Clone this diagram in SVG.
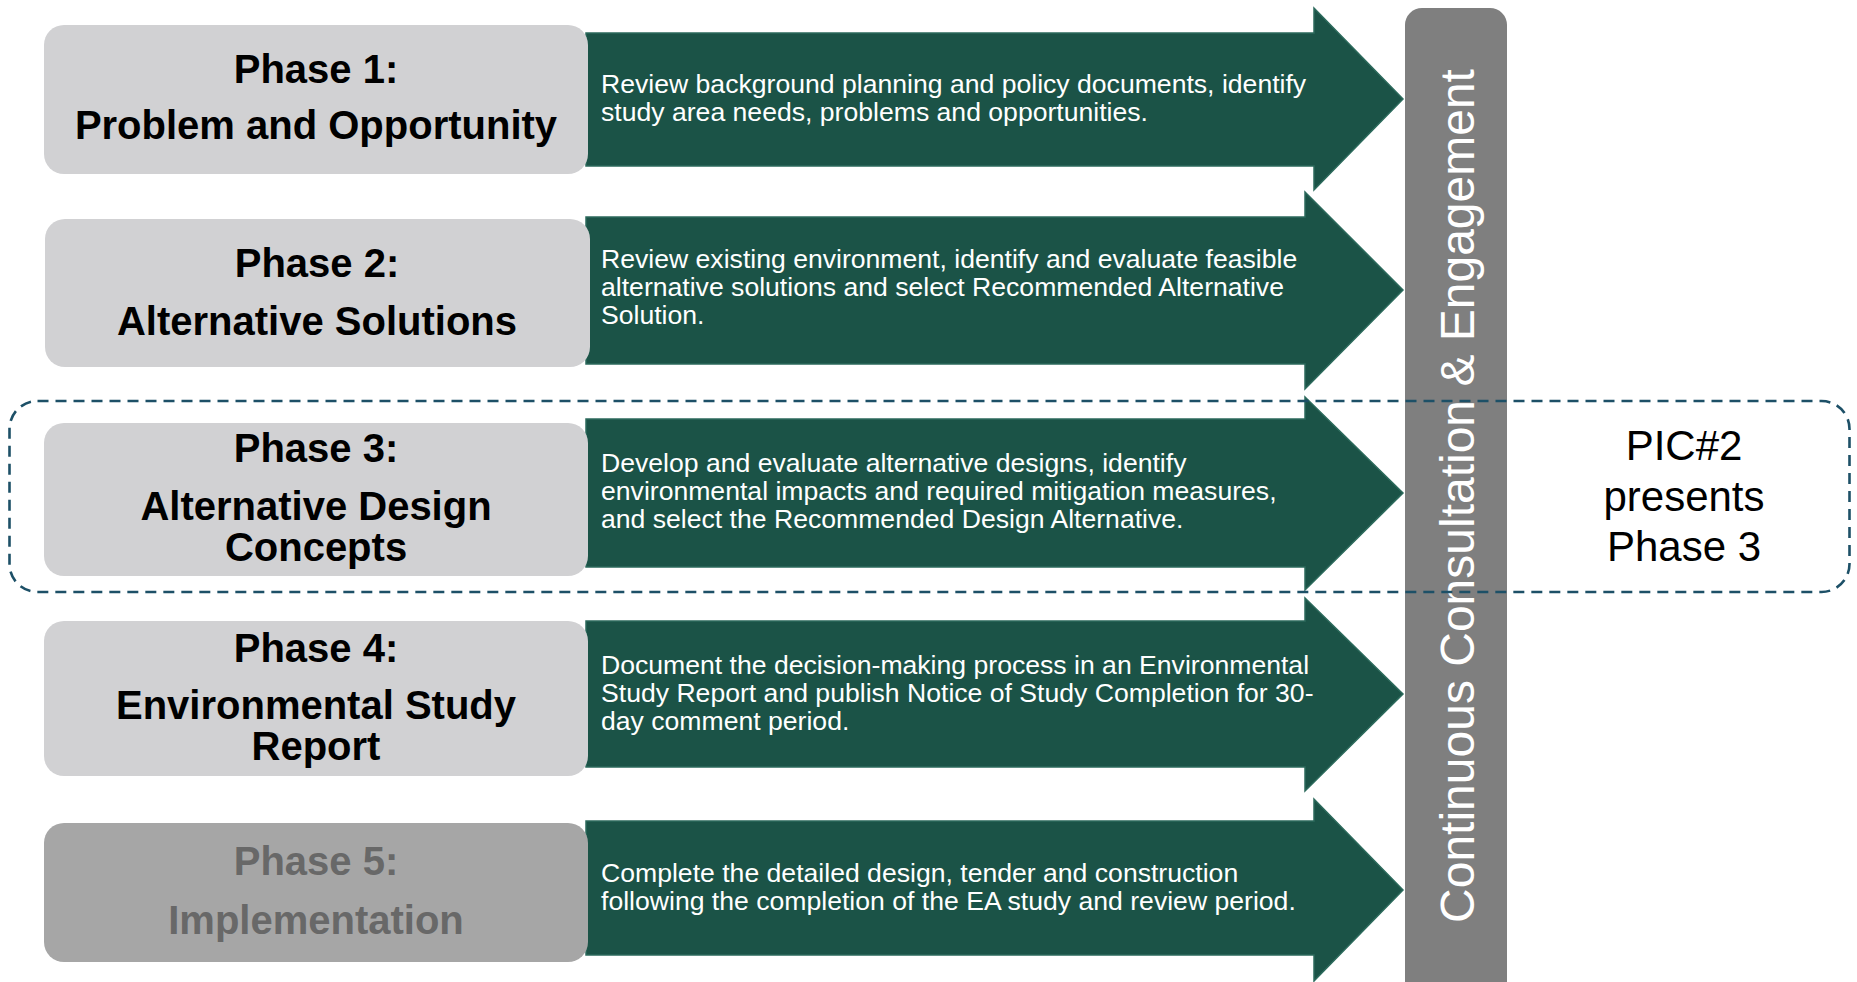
<svg xmlns="http://www.w3.org/2000/svg" width="1857" height="982" viewBox="0 0 1857 982">
<style>
.box{fill:#d1d1d3}
.box5{fill:#a6a6a6}
.arrow{fill:#1b5347;stroke:#2c6a5c;stroke-width:1.5}
.hd{font-family:"Liberation Sans",Arial,sans-serif;font-weight:bold;font-size:40px;fill:#000;text-anchor:middle}
.hd5{fill:#686868}
.desc{font-family:"Liberation Sans",Arial,sans-serif;font-size:26.6px;fill:#fff}
.bar{fill:#7f7f7f}
.vt{font-family:"Liberation Sans",Arial,sans-serif;font-size:48px;fill:#fff;text-anchor:middle}
.pic{font-family:"Liberation Sans",Arial,sans-serif;font-size:42px;fill:#000;text-anchor:middle}
.dash{fill:none;stroke:#1d5067;stroke-width:2.6;stroke-dasharray:11 7}
</style>
<rect width="1857" height="982" fill="#fff"/>
<g id="connectors">
<polygon id="arrow1" class="arrow" points="586,33 1314,33 1314,8 1403,99 1314,190 1314,166 586,166"/>
<polygon id="arrow2" class="arrow" points="586,217 1305,217 1305,192 1403,290 1305,389 1305,364 586,364"/>
<polygon id="arrow3" class="arrow" points="586,419 1305,419 1305,397 1403,493 1305,590 1305,567 586,567"/>
<polygon id="arrow4" class="arrow" points="586,621 1305,621 1305,598 1403,694 1305,791 1305,767 586,767"/>
<polygon id="arrow5" class="arrow" points="586,821 1314,821 1314,799 1403,890 1314,981 1314,955 586,955"/>
</g>
<g id="desc1">
<text class="desc" x="601" y="93">Review background planning and policy documents, identify</text>
<text class="desc" x="601" y="121">study area needs, problems and opportunities.</text>
</g>
<g id="desc2">
<text class="desc" x="601" y="268">Review existing environment, identify and evaluate feasible</text>
<text class="desc" x="601" y="296">alternative solutions and select Recommended Alternative</text>
<text class="desc" x="601" y="324">Solution.</text>
</g>
<g id="desc3">
<text class="desc" x="601" y="472">Develop and evaluate alternative designs, identify</text>
<text class="desc" x="601" y="500">environmental impacts and required mitigation measures,</text>
<text class="desc" x="601" y="528">and select the Recommended Design Alternative.</text>
</g>
<g id="desc4">
<text class="desc" x="601" y="674">Document the decision-making process in an Environmental</text>
<text class="desc" x="601" y="702">Study Report and publish Notice of Study Completion for 30-</text>
<text class="desc" x="601" y="730">day comment period.</text>
</g>
<g id="desc5">
<text class="desc" x="601" y="882">Complete the detailed design, tender and construction</text>
<text class="desc" x="601" y="910">following the completion of the EA study and review period.</text>
</g>
<g id="phase1">
<rect class="box" x="44" y="25" width="544" height="149" rx="20"/>
<text class="hd" x="316" y="83">Phase 1:</text>
<text class="hd" x="316" y="139">Problem and Opportunity</text>
</g>
<g id="phase2">
<rect class="box" x="45" y="219" width="545" height="148" rx="20"/>
<text class="hd" x="317" y="277">Phase 2:</text>
<text class="hd" x="317" y="335">Alternative Solutions</text>
</g>
<g id="phase3">
<rect class="box" x="44" y="423" width="544" height="153" rx="20"/>
<text class="hd" x="316" y="462">Phase 3:</text>
<text class="hd" x="316" y="520">Alternative Design</text>
<text class="hd" x="316" y="561">Concepts</text>
</g>
<g id="phase4">
<rect class="box" x="44" y="621" width="544" height="155" rx="20"/>
<text class="hd" x="316" y="662">Phase 4:</text>
<text class="hd" x="316" y="719">Environmental Study</text>
<text class="hd" x="316" y="760">Report</text>
</g>
<g id="phase5">
<rect class="box5" x="44" y="823" width="544" height="139" rx="20"/>
<text class="hd hd5" x="316" y="875">Phase 5:</text>
<text class="hd hd5" x="316" y="934">Implementation</text>
</g>
<g id="consultation">
<rect class="bar" x="1405" y="8" width="102" height="990" rx="17"/>
<text class="vt" transform="translate(1474,496) rotate(-90)" x="0" y="0">Continuous Consultation &amp; Engagement</text>
</g>
<g id="pic2">
<rect class="dash" x="9.5" y="401" width="1840" height="191" rx="28"/>
<text class="pic" x="1684" y="460">PIC#2</text>
<text class="pic" x="1684" y="511">presents</text>
<text class="pic" x="1684" y="561">Phase 3</text>
</g>
</svg>
